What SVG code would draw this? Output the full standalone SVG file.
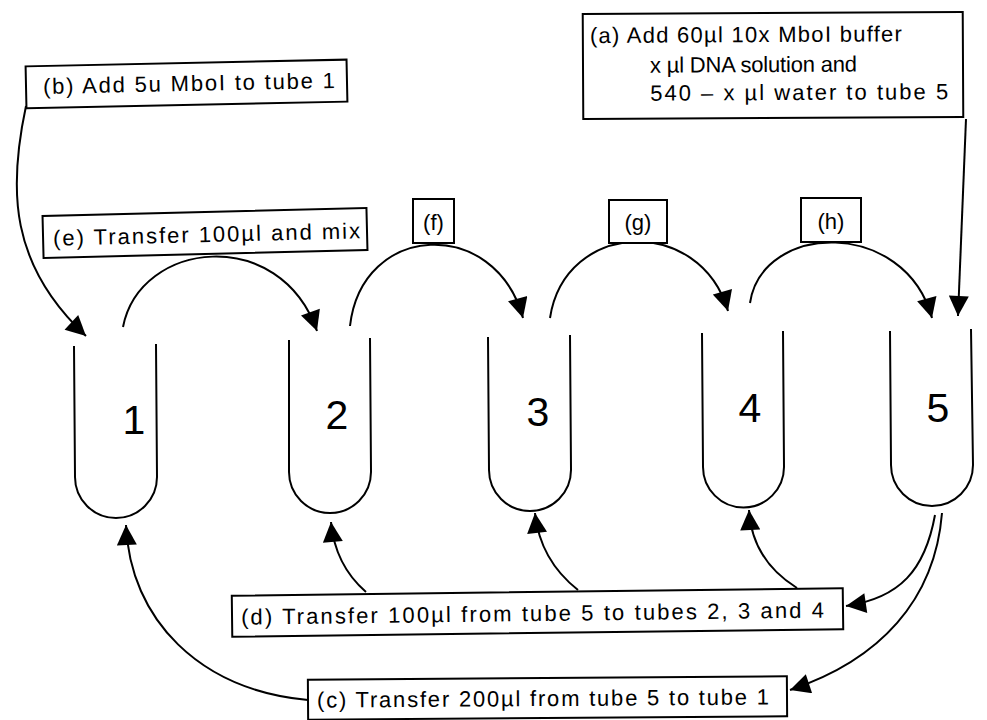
<svg xmlns="http://www.w3.org/2000/svg" width="987" height="720" viewBox="0 0 987 720">
<defs>
<marker id="ah" viewBox="0 0 10 10" refX="10" refY="5" markerUnits="userSpaceOnUse" markerWidth="22" markerHeight="20" orient="auto">
<path d="M0,0 L10,5 L0,10 z" fill="#000"/>
</marker>
<style>
.tube{fill:none;stroke:#000;stroke-width:2}
.box{fill:#fff;stroke:#000;stroke-width:2}
.lbl{font-family:"Liberation Sans",Arial,sans-serif;font-size:22px;fill:#000}
.big{font-family:"Liberation Sans",Arial,sans-serif;font-size:41px;fill:#000;text-anchor:middle}
.con{fill:none;stroke:#000;stroke-width:2;marker-end:url(#ah)}
</style>
</defs>
<rect width="987" height="720" fill="#fff"/>

<g id="connectors">
<path class="con" d="M26,106 C8,190 10,265 86,336"/>
<path class="con" d="M966,119 L958,316"/>
<path class="con" d="M123,327 C140,240 280,225 317,331"/>
<path class="con" d="M350,326 C362,222 495,216 523,318"/>
<path class="con" d="M550,318 C565,220 700,215 728,311"/>
<path class="con" d="M750,303 C762,222 905,218 932,318"/>
<path class="con" d="M366,592 Q335,565 331,522"/>
<path class="con" d="M578,590 Q540,560 535,513"/>
<path class="con" d="M797,588 Q752,560 749,510"/>
<path class="con" d="M308,700 C200,690 130,620 126,525"/>
<path class="con" d="M935,515 C925,570 900,598 846,606"/>
<path class="con" d="M942,513 C935,600 880,660 790,690"/>
</g>

<g id="tube1"><path class="tube" d="M74,346 L75,477 A41,41 0 0 0 157,477 L156,344"/><text class="big" x="134" y="434">1</text></g>
<g id="tube2"><path class="tube" d="M289,340 L289,472 A41,41 0 0 0 371,472 L370,338"/><text class="big" x="337" y="429">2</text></g>
<g id="tube3"><path class="tube" d="M488,337 L489,470 A41,41 0 0 0 571,470 L570,335"/><text class="big" x="538" y="426">3</text></g>
<g id="tube4"><path class="tube" d="M702,333 L703,467 A40.5,40.5 0 0 0 784,467 L783,331"/><text class="big" x="750" y="422">4</text></g>
<g id="tube5"><path class="tube" d="M890,331 L891,465 A41,41 0 0 0 973,465 L971,329"/><text class="big" x="938" y="422">5</text></g>

<g id="box-a" transform="rotate(-0.3 773 65)">
<rect class="box" x="583" y="13" width="380" height="105"/>
<text class="lbl" x="590" y="42" textLength="312">(a) Add 60µl 10x MboI buffer</text>
<text class="lbl" x="650" y="72" textLength="207">x µl DNA solution and</text>
<text class="lbl" x="650" y="100" textLength="298">540 – x µl water to tube 5</text>
</g>
<g id="box-b" transform="rotate(-1.2 186 84)">
<rect class="box" x="26" y="63" width="321" height="42"/>
<text class="lbl" x="43" y="91" textLength="292">(b) Add 5u MboI to tube 1</text>
</g>
<g id="box-e" transform="rotate(-1.4 205 233)">
<rect class="box" x="43" y="212" width="324" height="42"/>
<text class="lbl" x="53" y="242" textLength="307">(e) Transfer 100µl and mix</text>
</g>
<g id="box-f"><rect class="box" x="413" y="199" width="41" height="44"/><text class="lbl" x="433.5" y="230" text-anchor="middle">(f)</text></g>
<g id="box-g"><rect class="box" x="609" y="200" width="58" height="43"/><text class="lbl" x="638" y="230" text-anchor="middle">(g)</text></g>
<g id="box-h"><rect class="box" x="801" y="198" width="60" height="44"/><text class="lbl" x="831" y="229" text-anchor="middle">(h)</text></g>
<g id="box-d" transform="rotate(-0.7 537 612)">
<rect class="box" x="232" y="592" width="611" height="41"/>
<text class="lbl" x="241" y="621" textLength="583">(d) Transfer 100µl from tube 5 to tubes 2, 3 and 4</text>
</g>
<g id="box-c" transform="rotate(-0.4 547 698)">
<rect class="box" x="308" y="678" width="479" height="40"/>
<text class="lbl" x="317" y="706" textLength="452">(c) Transfer 200µl from tube 5 to tube 1</text>
</g>
</svg>
